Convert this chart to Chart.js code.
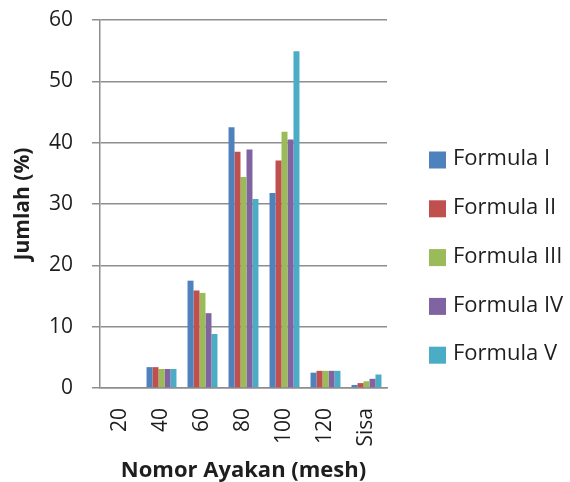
<!DOCTYPE html>
<html>
<head>
<meta charset="utf-8">
<title>Jumlah (%) per Nomor Ayakan</title>
<script src="https://cdn.jsdelivr.net/npm/chart.js@4.4.1/dist/chart.umd.min.js"></script>
<style>
  html, body { margin: 0; padding: 0; background: #ffffff; }
  #wrap { width: 570px; height: 482px; }
</style>
</head>
<body>
<div id="wrap"><canvas id="chart" width="570" height="482"></canvas></div>
<script>
// Sieve numbers (mesh) and the residue fraction
const categories = ['20', '40', '60', '80', '100', '120', 'Sisa'];

// Percentage retained on each sieve, per formula
const formulaI   = [0, 3.4, 17.5, 42.5, 31.8, 2.5, 0.5];
const formulaII  = [0, 3.4, 15.9, 38.5, 37.1, 2.8, 0.8];
const formulaIII = [0, 3.1, 15.5, 34.4, 41.8, 2.8, 1.1];
const formulaIV  = [0, 3.1, 12.2, 38.9, 40.5, 2.8, 1.5];
const formulaV   = [0, 3.1, 8.8, 30.8, 54.9, 2.8, 2.2];

const seriesNames = ['Formula I', 'Formula II', 'Formula III', 'Formula IV', 'Formula V'];
const seriesValues = [formulaI, formulaII, formulaIII, formulaIV, formulaV];
const seriesColors = ['#4f81bd', '#c0504d', '#9bbb59', '#8064a2', '#4bacc6'];

// Y axis: 0..60 step 10
const yMin = 0, yMax = 60, yStep = 10;

const FONT = "'Open Sans', 'DejaVu Sans', sans-serif";
const TEXT = '#1e1e1e';
const GRID = '#8e8e8e';

// Legend drawn as a column on the right of the plot
const sideLegend = {
  id: 'sideLegend',
  afterDraw(chart) {
    const ctx = chart.ctx;
    const x0 = 429, y0 = 160, step = 48.8, box = 17;
    ctx.save();
    ctx.font = '22px ' + FONT;
    ctx.textBaseline = 'middle';
    ctx.textAlign = 'left';
    chart.data.datasets.forEach((ds, i) => {
      const cy = y0 + i * step;
      ctx.fillStyle = ds.backgroundColor;
      ctx.fillRect(x0, cy - box / 2, box, box);
      ctx.fillStyle = TEXT;
      ctx.fillText(ds.label, x0 + 24, cy - 1);
    });
    ctx.restore();
  }
};

new Chart(document.getElementById('chart'), {
  type: 'bar',
  data: {
    labels: categories,
    datasets: seriesNames.map((name, i) => ({
      label: name,
      data: seriesValues[i],
      backgroundColor: seriesColors[i],
      borderWidth: 0,
      barPercentage: 1.0,
      categoryPercentage: 0.73
    }))
  },
  options: {
    responsive: false,
    animation: false,
    devicePixelRatio: 1,
    layout: { padding: { left: 0, right: 183, top: 20, bottom: 0 } },
    plugins: {
      legend: { display: false },
      tooltip: { enabled: false }
    },
    scales: {
      x: {
        afterFit(scale) { scale.height = 94; },
        grid: { display: false, drawTicks: false },
        border: { display: true, color: GRID, width: 1.5 },
        ticks: {
          minRotation: 90, maxRotation: 90,
          padding: 20,
          color: TEXT,
          font: { family: FONT, size: 21 }
        },
        title: {
          display: true,
          text: 'Nomor Ayakan (mesh)',
          color: TEXT,
          font: { family: FONT, size: 22, weight: 'bold', lineHeight: 1 },
          padding: { top: 0, bottom: 0 }
        }
      },
      y: {
        min: yMin, max: yMax,
        afterFit(scale) {
          scale.width = 100;
          scale.paddingTop = 0;
          scale.paddingBottom = 0;
        },
        grid: { color: GRID, lineWidth: 1.5, tickLength: 8, drawTicks: true },
        border: { display: true, color: GRID, width: 1.5 },
        ticks: {
          stepSize: yStep,
          padding: 19,
          color: TEXT,
          font: { family: FONT, size: 21 }
        },
        title: {
          display: true,
          text: 'Jumlah (%)',
          color: TEXT,
          font: { family: FONT, size: 21, weight: 'bold', lineHeight: 1 },
          padding: { top: 13, bottom: 0 }
        }
      }
    }
  },
  plugins: [sideLegend]
});
</script>
</body>
</html>
